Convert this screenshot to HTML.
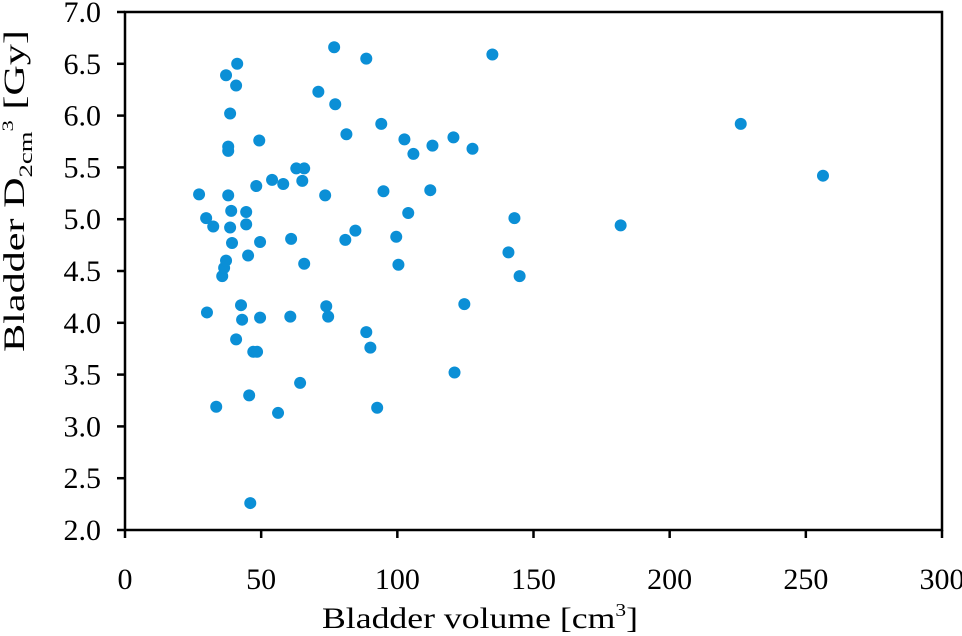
<!DOCTYPE html>
<html><head><meta charset="utf-8"><style>
html,body{margin:0;padding:0;background:#fff;}
svg{display:block;font-family:"Liberation Serif",serif;}
</style></head><body>
<svg id="chart" width="962" height="636" viewBox="0 0 962 636" xmlns="http://www.w3.org/2000/svg">
<g id="axes"></g>
<g id="points"></g>
<text x="322" y="628" font-size="30" textLength="316" lengthAdjust="spacingAndGlyphs">Bladder volume [cm<tspan font-size="18" dy="-12">3</tspan><tspan dy="12">]</tspan></text>
<text transform="translate(24,352) rotate(-90)" font-size="30" textLength="322" lengthAdjust="spacingAndGlyphs">Bladder D<tspan font-size="19" dy="8">2cm</tspan><tspan font-size="16" dy="-19">3</tspan><tspan dy="11"> [Gy]</tspan></text>
</svg>
<script>
const xTicks=[0,50,100,150,200,250,300];
const yTicks=[2.0,2.5,3.0,3.5,4.0,4.5,5.0,5.5,6.0,6.5,7.0];
const volumes=[27.2,29.8,30.1,32.4,33.5,35.7,36.4,37.1,37.1,37.9,37.9,37.9,38.6,38.6,39.0,39.3,41.2,40.8,40.8,42.6,43.0,44.5,44.5,45.2,45.6,46.0,47.1,48.5,48.2,49.3,49.6,49.6,54.0,56.2,58.1,61.0,60.7,62.9,65.8,65.1,64.3,65.8,71.0,73.5,73.9,74.6,76.8,77.2,81.3,80.9,84.6,88.6,88.6,90.1,92.6,94.1,94.9,99.6,100.4,102.6,104.0,105.9,112.9,112.1,120.6,121.0,124.6,127.6,134.9,140.8,143.0,144.9,182.0,226.1,256.3];
const doses=[5.24,5.01,4.10,4.93,3.19,4.45,4.53,4.60,6.39,5.23,5.70,5.66,6.02,4.92,5.08,4.77,6.50,6.29,3.84,4.17,4.03,5.07,4.95,4.65,3.30,2.26,3.72,3.72,5.32,5.76,4.78,4.05,5.38,3.13,5.34,4.81,4.06,5.49,5.49,5.37,3.42,4.57,6.23,5.23,4.16,4.06,6.66,6.11,5.82,4.80,4.89,6.55,3.91,3.76,3.18,5.92,5.27,4.83,4.56,5.77,5.06,5.63,5.71,5.28,5.79,3.52,4.18,5.68,6.59,4.68,5.01,4.45,4.94,5.92,5.42];
const L=125,R=942,T=12,B=530;
function xs(v){return L+(v-0)/(300-0)*(R-L);}
function ys(v){return B-(v-2)/(7-2)*(B-T);}
const NS="http://www.w3.org/2000/svg";
const ax=document.getElementById('axes');
function mk(tag,attrs,parent){const e=document.createElementNS(NS,tag);for(const k in attrs)e.setAttribute(k,attrs[k]);parent.appendChild(e);return e;}
const frame=mk('rect',{x:L,y:T,width:R-L,height:B-T,fill:'none',stroke:'#000','stroke-width':2.5},ax);


xTicks.forEach(t=>{
  const tk=mk('line',{x1:xs(t),x2:xs(t),y1:B,y2:B+8,stroke:'#000','stroke-width':2.5},ax);
  
  
  const lb=mk('text',{x:xs(t),y:589,'font-size':30,'text-anchor':'middle'},ax);
  lb.textContent=String(t);
  
  
});
yTicks.forEach(t=>{
  const tk=mk('line',{x1:L-8,x2:L,y1:ys(t),y2:ys(t),stroke:'#000','stroke-width':2.5},ax);
  
  
  const lb=mk('text',{x:101,y:ys(t)+10,'font-size':30,'text-anchor':'end'},ax);
  lb.textContent=t.toFixed(1);
  
  
});
const pg=document.getElementById('points');
volumes.forEach((v,i)=>{
  const c=mk('circle',{cx:xs(v),cy:ys(doses[i]),r:6,fill:'#0b8fd6'},pg);
  
  
});
</script>
</body></html>
